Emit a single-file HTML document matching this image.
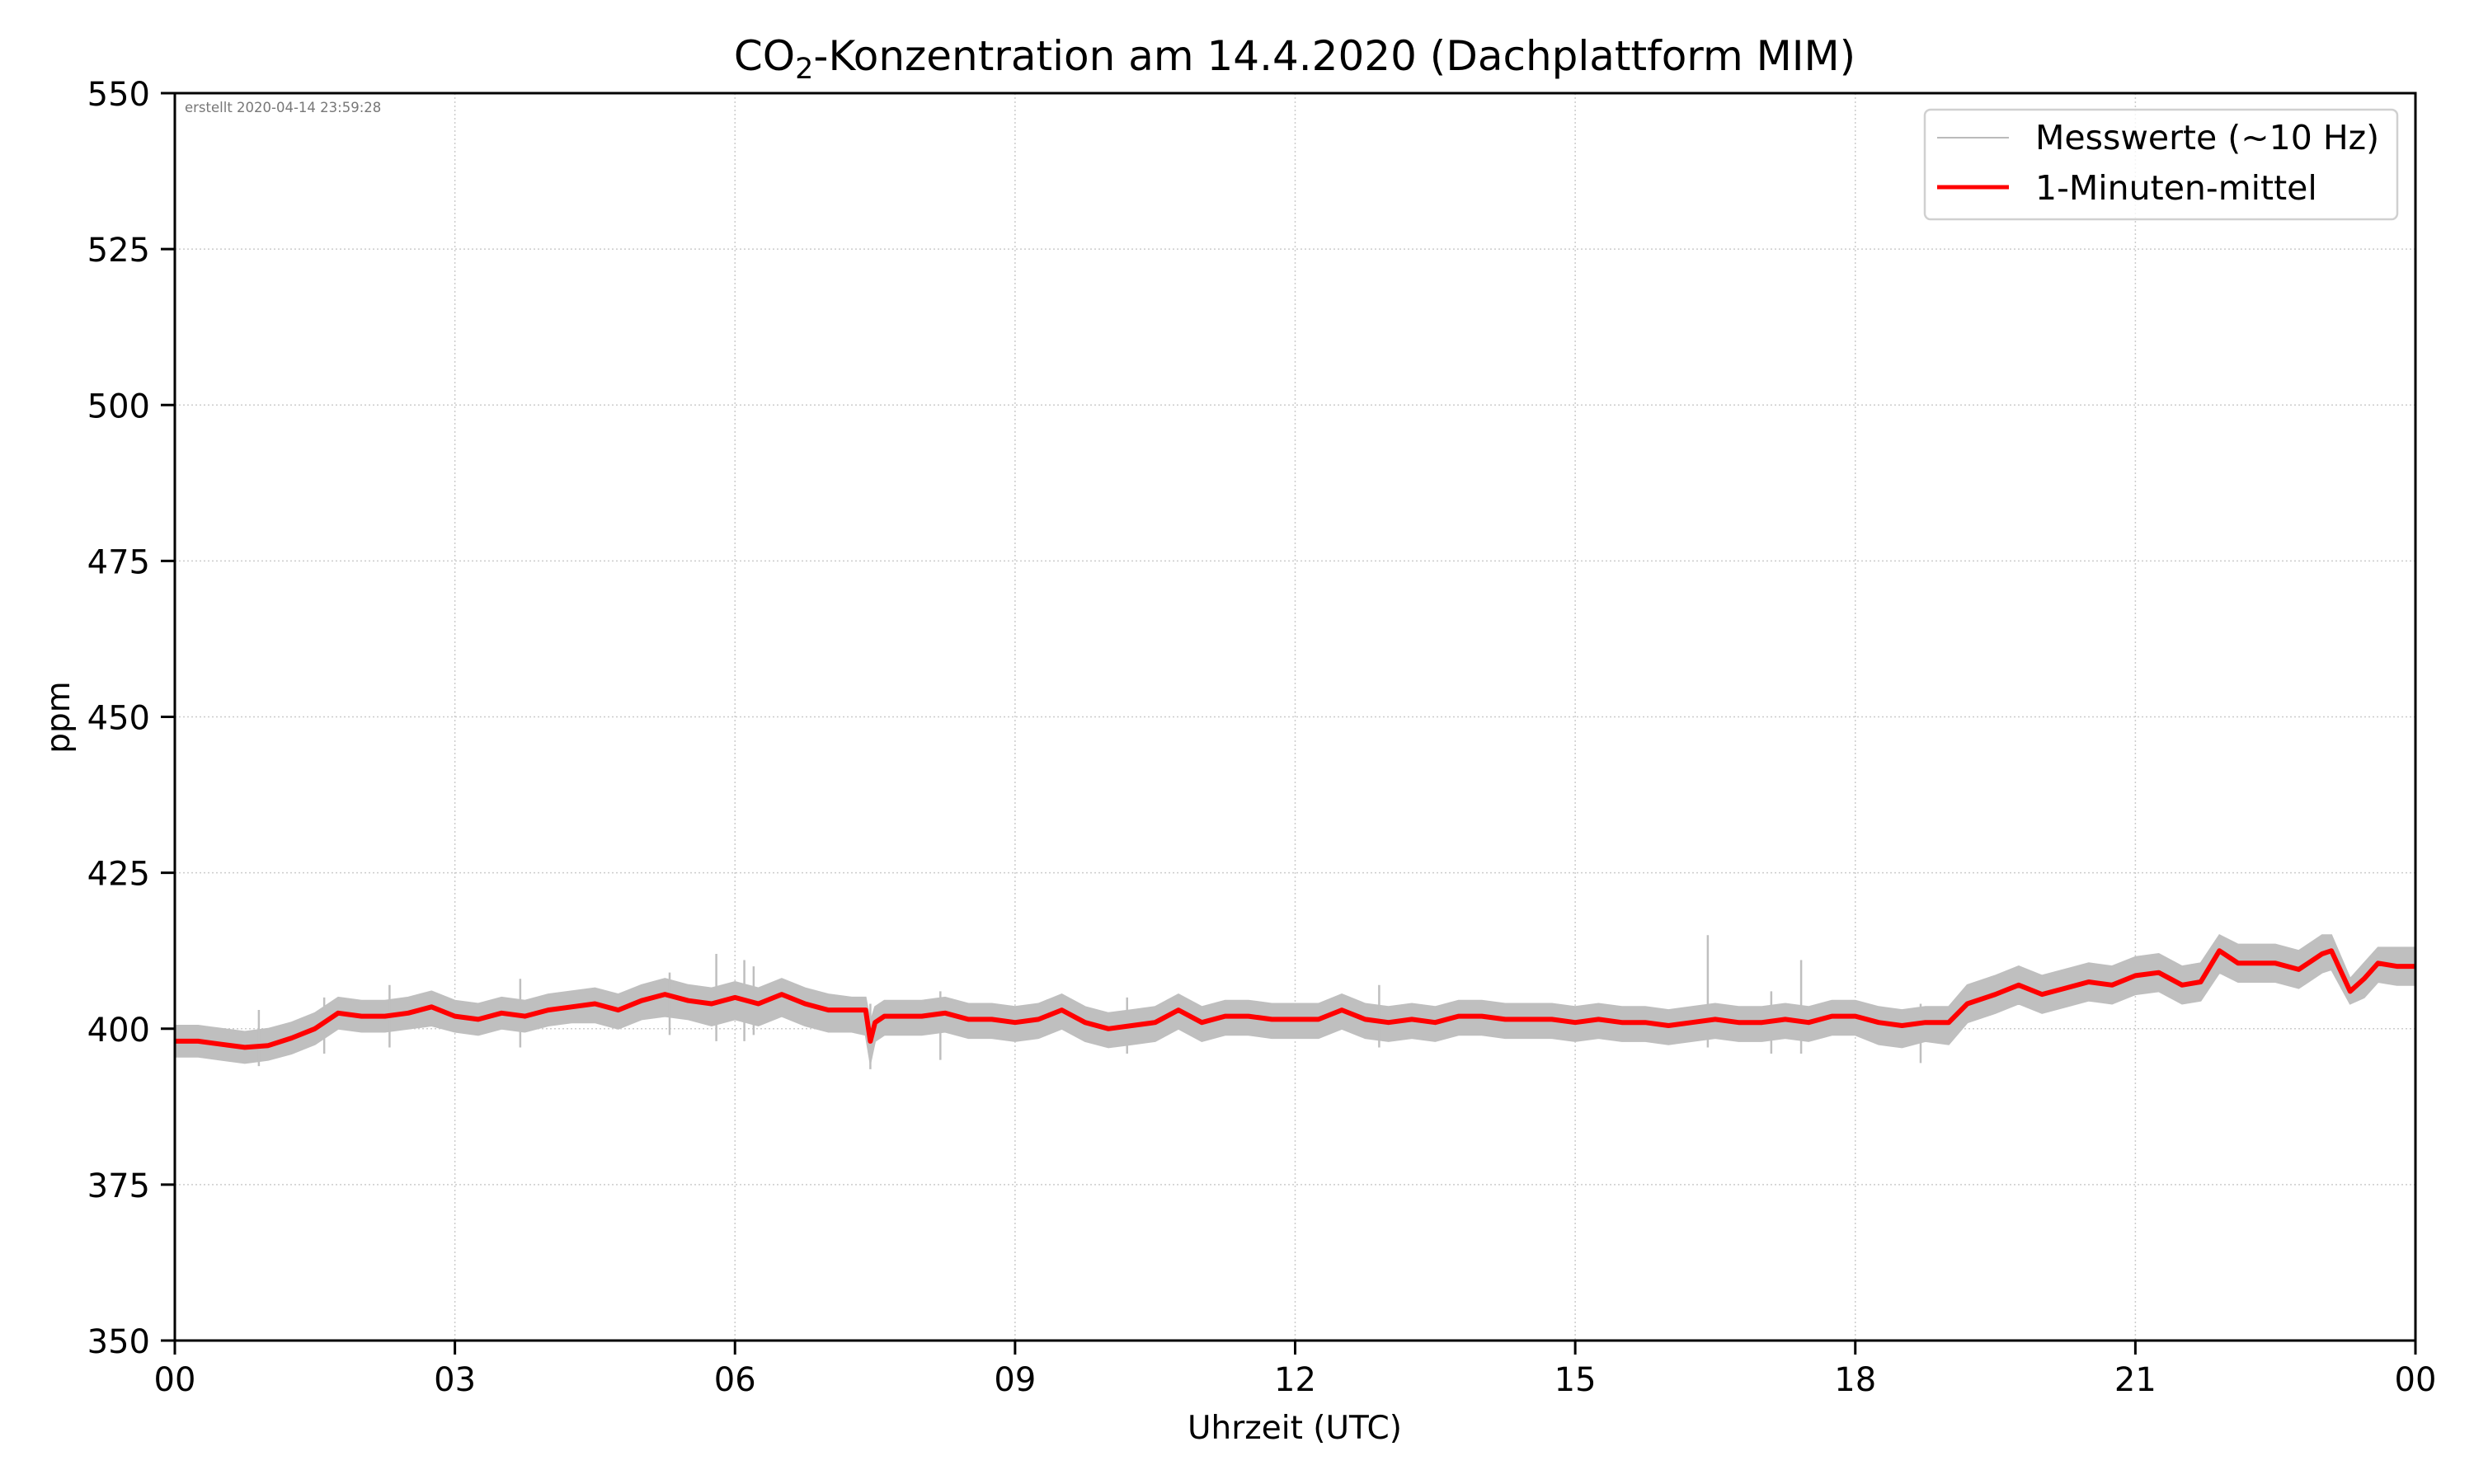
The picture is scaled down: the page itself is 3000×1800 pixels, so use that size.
<!DOCTYPE html>
<html><head><meta charset="utf-8"><style>
html,body{margin:0;padding:0;background:#fff}
svg{display:block;font-family:"DejaVu Sans","Liberation Sans",sans-serif}
</style></head><body>
<svg id="chart" width="3000" height="1800" viewBox="0 0 3000 1800">
<rect width="3000" height="1800" fill="#fff"/>
<text x="1570" y="85" font-size="50" text-anchor="middle">CO<tspan font-size="35" dy="10">2</tspan><tspan dy="-10">-Konzentration am 14.4.2020 (Dachplattform MIM)</tspan></text>
<g id="grid"></g>
<g id="series"></g>
<g id="axes"></g>
<text x="224" y="136" font-size="16.5" fill="#777">erstellt 2020-04-14 23:59:28</text>
<g>
<rect x="2334" y="133" width="573" height="133" rx="7" fill="#fff" fill-opacity="0.8" stroke="#d0d0d0" stroke-width="2.5"/>
<line x1="2349" y1="167" x2="2436" y2="167" stroke="#bbb" stroke-width="2"/>
<text x="2468" y="181" font-size="41">Messwerte (~10 Hz)</text>
<line x1="2349" y1="227" x2="2436" y2="227" stroke="#f00" stroke-width="5"/>
<text x="2468" y="242" font-size="41">1-Minuten-mittel</text>
</g>
<text x="1570" y="1745" font-size="39" text-anchor="middle">Uhrzeit (UTC)</text>
<text transform="translate(84,870) rotate(-90)" font-size="39" text-anchor="middle">ppm</text>
</svg>
<script>
const hours=[0,0.25,0.5,0.75,1,1.25,1.5,1.75,2,2.25,2.5,2.75,3,3.25,3.5,3.75,4,4.25,4.5,4.75,5,5.25,5.5,5.75,6,6.25,6.5,6.75,7,7.25,7.4,7.45,7.5,7.6,7.75,8,8.25,8.5,8.75,9,9.25,9.5,9.75,10,10.25,10.5,10.75,11,11.25,11.5,11.75,12,12.25,12.5,12.75,13,13.25,13.5,13.75,14,14.25,14.5,14.75,15,15.25,15.5,15.75,16,16.25,16.5,16.75,17,17.25,17.5,17.75,18,18.25,18.5,18.75,19,19.2,19.5,19.75,20,20.25,20.5,20.75,21,21.25,21.5,21.7,21.9,22.1,22.5,22.75,23,23.1,23.3,23.45,23.6,23.8,24];
const meanPpm=[398,398,397.5,397,397.3,398.5,400,402.5,402,402,402.5,403.5,402,401.5,402.5,402,403,403.5,404,403,404.5,405.5,404.5,404,405,404,405.5,404,403,403,403,398,401,402,402,402,402.5,401.5,401.5,401,401.5,403,401,400,400.5,401,403,401,402,402,401.5,401.5,401.5,403,401.5,401,401.5,401,402,402,401.5,401.5,401.5,401,401.5,401,401,400.5,401,401.5,401,401,401.5,401,402,402,401,400.5,401,401,404,405.5,407,405.5,406.5,407.5,407,408.5,409,407,407.5,412.5,410.5,410.5,409.5,412,412.5,406,408,410.5,410,410];
const rawLow=[395.5,395.5,395,394.5,395,396,397.5,400,399.5,399.5,400,400.5,399.5,399,400,399.5,400.5,401,401,400,401.5,402,401.5,400.5,401.5,400.5,402,400.5,399.5,399.5,399,394.5,398,399,399,399,399.5,398.5,398.5,398,398.5,400,398,397,397.5,398,400,398,399,399,398.5,398.5,398.5,400,398.5,398,398.5,398,399,399,398.5,398.5,398.5,398,398.5,398,398,397.5,398,398.5,398,398,398.5,398,399,399,397.5,397,398,397.5,401,402.5,404,402.5,403.5,404.5,404,405.5,406,404,404.5,409,407.5,407.5,406.5,409,409.5,404,405,407.5,407,407];
const rawHigh=[400.5,400.5,400,399.5,400,401,402.5,405,404.5,404.5,405,406,404.5,404,405,404.5,405.5,406,406.5,405.5,407,408,407,406.5,407.5,406.5,408,406.5,405.5,405,405,401,403.5,404.5,404.5,404.5,405,404,404,403.5,404,405.5,403.5,402.5,403,403.5,405.5,403.5,404.5,404.5,404,404,404,405.5,404,403.5,404,403.5,404.5,404.5,404,404,404,403.5,404,403.5,403.5,403,403.5,404,403.5,403.5,404,403.5,404.5,404.5,403.5,403,403.5,403.5,407,408.5,410,408.5,409.5,410.5,410,411.5,412,410,410.5,415,413.5,413.5,412.5,415,415,408,410.5,413,413,413];
const spikeHours=[0.9,1.6,2.3,3.7,5.3,5.8,6.1,6.2,7.45,8.2,10.2,12.9,16.42,17.1,17.42,18.7];
const spikeTop=[403,405,407,408,409,412,411,410,404,406,405,407,415,406,411,404];
const spikeBottom=[394,396,397,397,399,398,398,399,393.5,395,396,397,397,396,396,394.5];
const xTicks=[0,3,6,9,12,15,18,21,24];
const xTickLabels=["00","03","06","09","12","15","18","21","00"];
const yTicks=[350,375,400,425,450,475,500,525,550];

const L=212,R=2929,T=113,B=1626;
const xs=h=>L+(h/24)*(R-L);
const ys=v=>B-(v-350)/200*(B-T);
const NS='http://www.w3.org/2000/svg';
function mk(tag,attrs,parent){const e=document.createElementNS(NS,tag);for(const k in attrs)e.setAttribute(k,attrs[k]);parent.appendChild(e);return e;}
const gridG=document.getElementById('grid'),seriesG=document.getElementById('series'),axesG=document.getElementById('axes');
xTicks.forEach((t,i)=>{
  const g=mk('line',{x1:xs(t),x2:xs(t),y1:T,y2:B,stroke:'#ccc','stroke-width':1.5,'stroke-dasharray':'2,3'},gridG);
  
  
  const tk=mk('line',{x1:xs(t),x2:xs(t),y1:B,y2:B+17,stroke:'#000','stroke-width':3},axesG);
  
  
  const tl=mk('text',{x:xs(t),y:B+61,'font-size':40,'text-anchor':'middle'},axesG);
  tl.textContent=xTickLabels[i];
  
  
});
yTicks.forEach(v=>{
  const g=mk('line',{x1:L,x2:R,y1:ys(v),y2:ys(v),stroke:'#ccc','stroke-width':1.5,'stroke-dasharray':'2,3'},gridG);
  
  
  const tk=mk('line',{x1:L-17,x2:L,y1:ys(v),y2:ys(v),stroke:'#000','stroke-width':3},axesG);
  
  
  const tl=mk('text',{x:L-30,y:ys(v)+15,'font-size':40,'text-anchor':'end'},axesG);
  tl.textContent=v;
  
  
});
let upperPath='',lowerPath='';
hours.forEach((h,i)=>{upperPath+=(i?'L':'M')+xs(h).toFixed(1)+','+ys(rawHigh[i]).toFixed(1);});
for(let i=hours.length-1;i>=0;i--){lowerPath+='L'+xs(hours[i]).toFixed(1)+','+ys(rawLow[i]).toFixed(1);}
const band=mk('path',{d:upperPath+lowerPath+'Z',fill:'#bfbfbf',stroke:'#bfbfbf','stroke-width':2},seriesG);


spikeHours.forEach((h,i)=>{
  const s=mk('line',{x1:xs(h),x2:xs(h),y1:ys(spikeTop[i]),y2:ys(spikeBottom[i]),stroke:'#bfbfbf','stroke-width':2.5},seriesG);
  
  
});
let meanPath='';
hours.forEach((h,i)=>{meanPath+=(i?'L':'M')+xs(h).toFixed(1)+','+ys(meanPpm[i]).toFixed(1);});
const ln=mk('path',{d:meanPath,fill:'none',stroke:'#f00','stroke-width':6,'stroke-linejoin':'round'},seriesG);


const fr=mk('rect',{x:L,y:T,width:R-L,height:B-T,fill:'none',stroke:'#000','stroke-width':3},axesG);


</script>
</body></html>
